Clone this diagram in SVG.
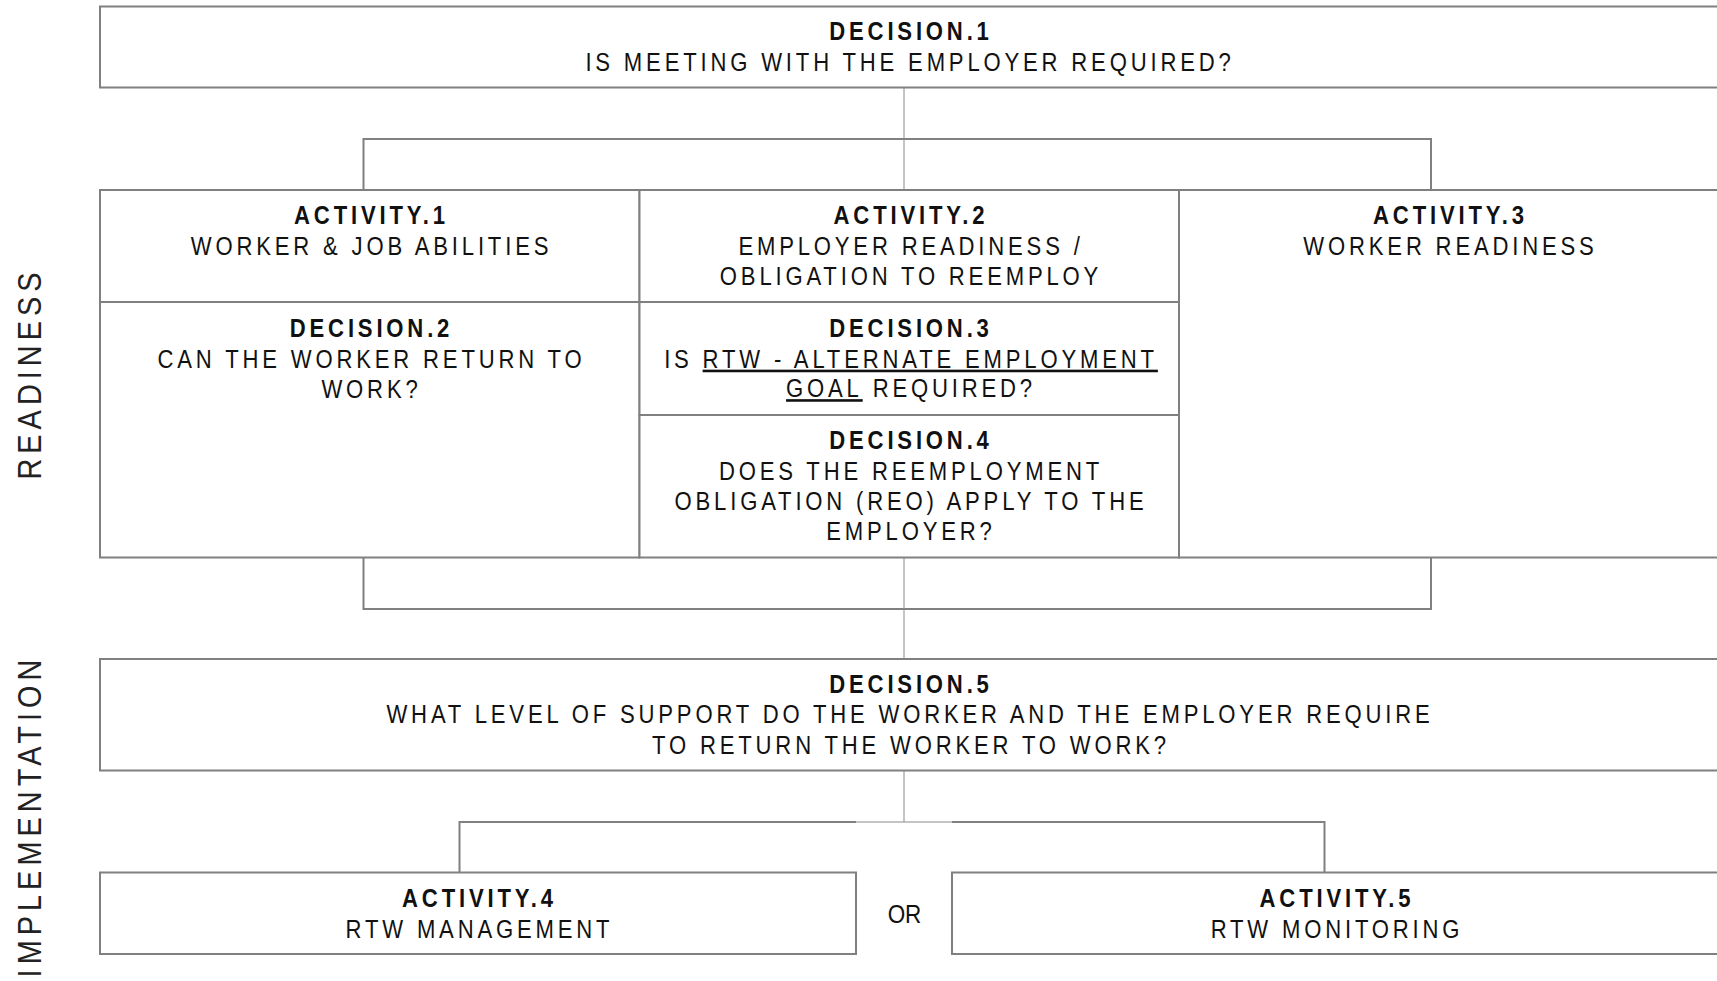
<svg xmlns="http://www.w3.org/2000/svg" width="1717" height="981" viewBox="0 0 1717 981">
<style>
.box{fill:#fff;stroke:#808080;stroke-width:2}
.ln{fill:none;stroke:#808080;stroke-width:2}
.th{fill:none;stroke:#8a8a8a;stroke-width:1}
text{font-family:"Liberation Sans",Arial,sans-serif;fill:#111;text-anchor:middle}
.h{font-size:26px;font-weight:bold;letter-spacing:4.5px}
.t{font-size:26px;letter-spacing:4.5px}
.side{font-size:34px;letter-spacing:5.9px;fill:#222}
.or{font-size:25px;letter-spacing:0}
</style>
<g id="side-labels">
<text class="side" transform="translate(41,373.5) rotate(-90) scale(0.85,1)">READINESS</text>
<text class="side" transform="translate(41,816) rotate(-90) scale(0.85,1)">IMPLEMENTATION</text>
</g>
<g id="connectors">
<line class="th" x1="904" y1="88" x2="904" y2="190"/>
<polyline class="ln" points="363.5,190 363.5,139 1431,139 1431,190"/>
<polyline class="ln" points="363.5,557 363.5,609 1431,609 1431,557"/>
<line class="th" x1="904" y1="557" x2="904" y2="659"/>
<line class="th" x1="904" y1="770" x2="904" y2="822"/>
<polyline class="ln" points="459.5,872 459.5,822 856,822"/>
<polyline class="ln" points="952,822 1324.5,822 1324.5,872"/>
<line class="th" x1="856" y1="822" x2="952" y2="822" stroke="#aaa"/>
</g>
<g id="decision1">
<rect class="box" x="100" y="6.5" width="1619" height="81"/>
<text class="h" transform="translate(911,39.5) scale(0.85,1)">DECISION.1</text>
<text class="t" transform="translate(910,70.5) scale(0.85,1)">IS MEETING WITH THE EMPLOYER REQUIRED?</text>
</g>
<g id="activity1">
<rect class="box" x="100" y="190" width="539.5" height="112"/>
<text class="h" transform="translate(371.5,224) scale(0.85,1)">ACTIVITY.1</text>
<text class="t" transform="translate(371.5,255) scale(0.85,1)">WORKER &amp; JOB ABILITIES</text>
</g>
<g id="decision2">
<rect class="box" x="100" y="302" width="539.5" height="255.5"/>
<text class="h" transform="translate(371.5,336.5) scale(0.85,1)">DECISION.2</text>
<text class="t" transform="translate(371.5,367.5) scale(0.85,1)">CAN THE WORKER RETURN TO</text>
<text class="t" transform="translate(371.5,397.5) scale(0.85,1)">WORK?</text>
</g>
<g id="activity2">
<rect class="box" x="639.5" y="190" width="539.5" height="112"/>
<text class="h" transform="translate(911,224) scale(0.85,1)">ACTIVITY.2</text>
<text class="t" transform="translate(911,255) scale(0.85,1)">EMPLOYER READINESS /</text>
<text class="t" transform="translate(911,285) scale(0.85,1)">OBLIGATION TO REEMPLOY</text>
</g>
<g id="decision3">
<rect class="box" x="639.5" y="302" width="539.5" height="113"/>
<text class="h" transform="translate(911,336.5) scale(0.85,1)">DECISION.3</text>
<text class="t" transform="translate(911,367.5) scale(0.85,1)">IS <tspan text-decoration="underline">RTW - ALTERNATE EMPLOYMENT</tspan></text>
<text class="t" transform="translate(911,397) scale(0.85,1)"><tspan text-decoration="underline">GOAL</tspan> REQUIRED?</text>
</g>
<g id="decision4">
<rect class="box" x="639.5" y="415" width="539.5" height="142.5"/>
<text class="h" transform="translate(911,448.5) scale(0.85,1)">DECISION.4</text>
<text class="t" transform="translate(911,480) scale(0.85,1)">DOES THE REEMPLOYMENT</text>
<text class="t" transform="translate(911,510) scale(0.85,1)">OBLIGATION (REO) APPLY TO THE</text>
<text class="t" transform="translate(911,540) scale(0.85,1)">EMPLOYER?</text>
</g>
<g id="activity3">
<rect class="box" x="1179" y="190" width="540" height="367.5"/>
<text class="h" transform="translate(1450.5,224) scale(0.85,1)">ACTIVITY.3</text>
<text class="t" transform="translate(1450.5,255) scale(0.85,1)">WORKER READINESS</text>
</g>
<g id="decision5">
<rect class="box" x="100" y="659" width="1619" height="111.5"/>
<text class="h" transform="translate(911,693) scale(0.85,1)">DECISION.5</text>
<text class="t" transform="translate(910,723) scale(0.85,1)">WHAT LEVEL OF SUPPORT DO THE WORKER AND THE EMPLOYER REQUIRE</text>
<text class="t" transform="translate(911,753.5) scale(0.85,1)">TO RETURN THE WORKER TO WORK?</text>
</g>
<g id="activity4">
<rect class="box" x="100" y="872.5" width="756" height="81.5"/>
<text class="h" transform="translate(479.5,907) scale(0.85,1)">ACTIVITY.4</text>
<text class="t" transform="translate(479.5,938) scale(0.85,1)">RTW MANAGEMENT</text>
</g>
<g id="or-label">
<text class="or" transform="translate(904.5,923) scale(0.9,1)">OR</text>
</g>
<g id="activity5">
<rect class="box" x="952" y="872.5" width="767" height="81.5"/>
<text class="h" transform="translate(1337,907) scale(0.85,1)">ACTIVITY.5</text>
<text class="t" transform="translate(1337,938) scale(0.85,1)">RTW MONITORING</text>
</g>
</svg>
